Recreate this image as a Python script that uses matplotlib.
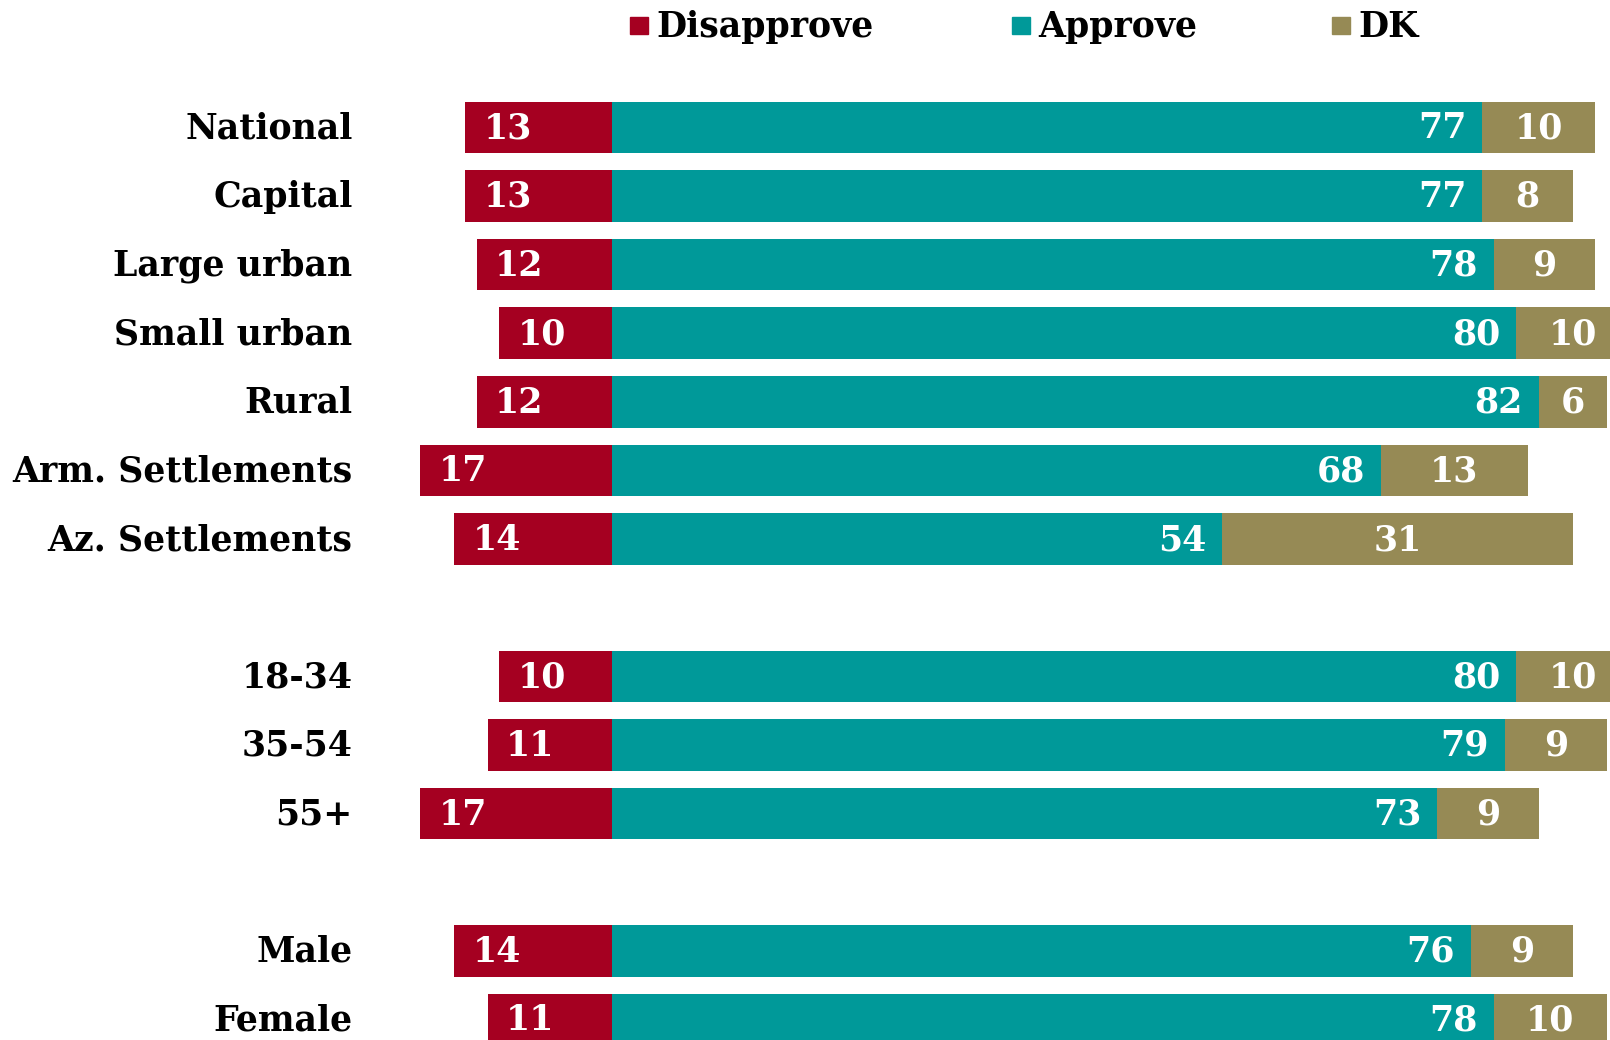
import matplotlib.pyplot as plt
from matplotlib.patches import Rectangle

categories = ["National", "Capital", "Large urban", "Small urban", "Rural",
              "Arm. Settlements", "Az. Settlements",
              "18-34", "35-54", "55+",
              "Male", "Female"]
group_sizes = [7, 3, 2]
disapprove = [13, 13, 12, 10, 12, 17, 14, 10, 11, 17, 14, 11]
approve = [77, 77, 78, 80, 82, 68, 54, 80, 79, 73, 76, 78]
dk = [10, 8, 9, 10, 6, 13, 31, 10, 9, 9, 9, 10]

RED = "#A50021"
TEAL = "#009999"
OLIVE = "#968A55"
FONT = "DejaVu Serif"
FS = 25

# row positions: one empty slot between groups
ys = []
slot = 0
for g in group_sizes:
    ys.extend(range(slot, slot + g))
    slot += g + 1

fig = plt.figure(figsize=(16.1, 10.4), dpi=100)
ax = fig.add_axes([0, 0, 1, 1])
ax.set_xlim(-54.2, 88.3)
ax.set_ylim(13.30, -1.856)
ax.axis("off")

h = 0.75
ax.barh(ys, [-d for d in disapprove], height=h, color=RED)
ax.barh(ys, approve, height=h, color=TEAL)
ax.barh(ys, dk, left=approve, height=h, color=OLIVE)

off = 0.16
for y, cat, d, a, k in zip(ys, categories, disapprove, approve, dk):
    ax.text(-23, y + off, cat, ha="right", va="baseline", fontsize=FS,
            fontweight="bold", family=FONT, color="black")
    ax.text(-d + 1.6, y + off, str(d), ha="left", va="baseline", fontsize=FS,
            fontweight="bold", family=FONT, color="white")
    ax.text(a - 1.4, y + off, str(a), ha="right", va="baseline", fontsize=FS,
            fontweight="bold", family=FONT, color="white")
    ax.text(a + k / 2, y + off, str(k), ha="center", va="baseline", fontsize=FS,
            fontweight="bold", family=FONT, color="white")

# legend
leg_y = -1.48
for x0, label, col in [(1.6, "Disapprove", RED), (35.4, "Approve", TEAL), (63.7, "DK", OLIVE)]:
    ax.add_patch(Rectangle((x0, leg_y - 0.125), 1.55, 0.25, color=col, clip_on=False))
    ax.text(x0 + 2.3, leg_y + off, label, ha="left", va="baseline", fontsize=FS,
            fontweight="bold", family=FONT, color="black")

fig.savefig("out.png", dpi=100)
